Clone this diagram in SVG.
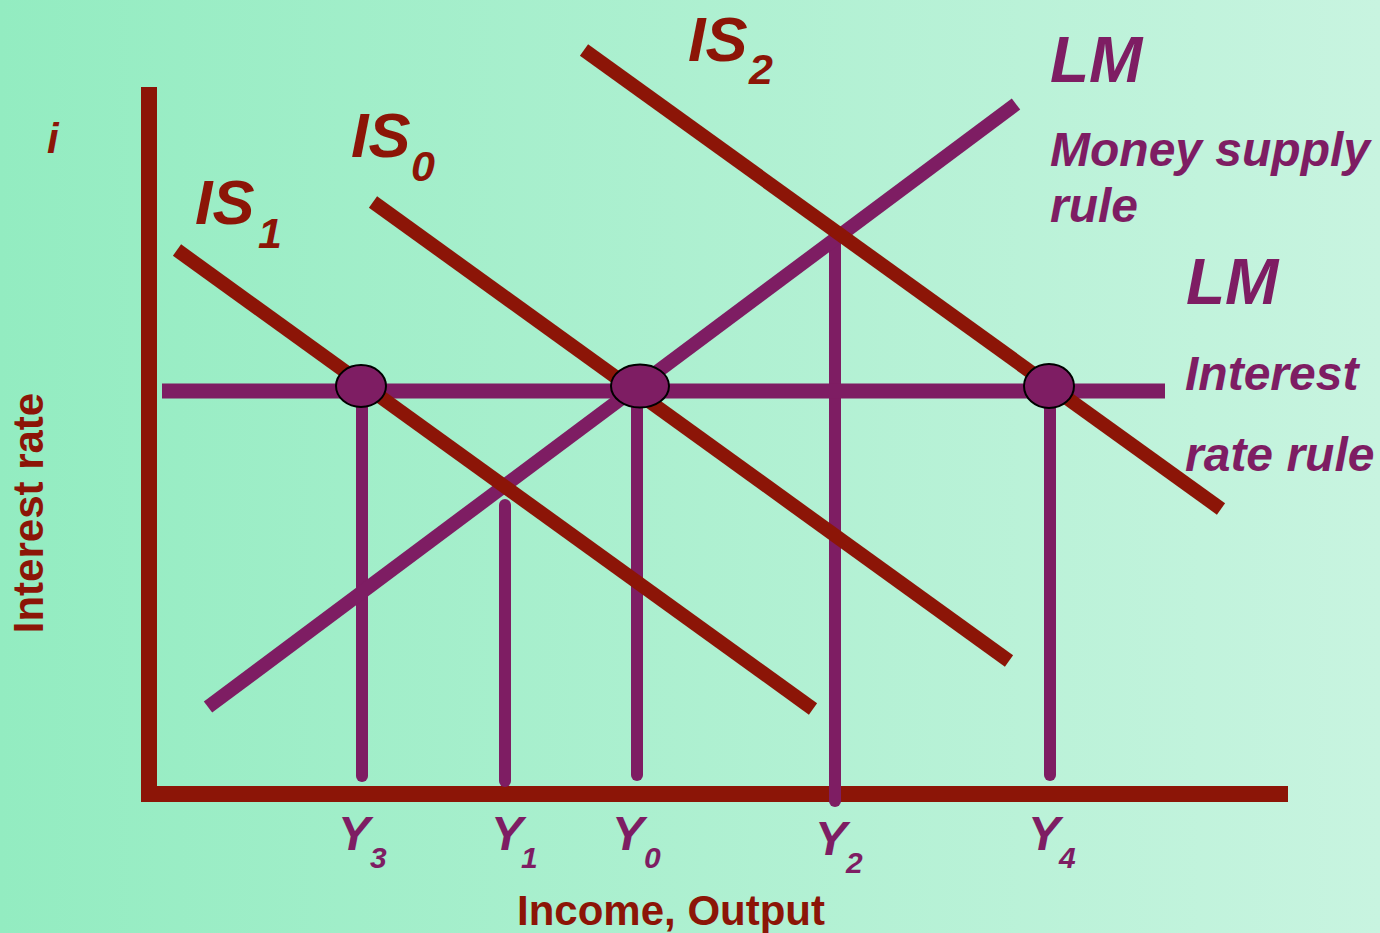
<svg xmlns="http://www.w3.org/2000/svg" width="1380" height="933" viewBox="0 0 1380 933">
<defs>
<linearGradient id="bg" x1="0" y1="0" x2="1" y2="0">
<stop offset="0" stop-color="#93ECC1"/>
<stop offset="1" stop-color="#C8F4E0"/>
</linearGradient>
</defs>
<style>
.t{font-family:"Liberation Sans",Arial,sans-serif;font-weight:bold;}
.it{font-style:italic;}
.red{fill:#8C1507;}
.pur{fill:#7E1D63;}
.axis{stroke:#8C1507;stroke-width:16;fill:none;}
.is{stroke:#8C1507;stroke-width:14;fill:none;}
.lm{stroke:#7E1D63;stroke-width:14;fill:none;}
.drop{stroke:#7E1D63;stroke-width:12;stroke-linecap:round;fill:none;}
.dot{fill:#7E1D63;stroke:#000;stroke-width:2;}
</style>
<rect x="0" y="0" width="1380" height="933" fill="url(#bg)"/>
<g id="axes">
<line class="axis" x1="149" y1="87" x2="149" y2="802"/>
<line class="axis" x1="141" y1="794" x2="1288" y2="794"/>
</g>
<g id="connectors">
<line class="drop" x1="362" y1="386" x2="362" y2="776"/>
<line class="drop" x1="505" y1="505" x2="505" y2="781"/>
<line class="drop" x1="637" y1="386" x2="637" y2="775"/>
<line class="drop" x1="835" y1="240" x2="835" y2="801"/>
<line class="drop" x1="1050" y1="386" x2="1050" y2="775"/>
<line class="lm" x1="162" y1="391" x2="1165" y2="391" style="stroke-width:15"/>
<line class="lm" x1="208" y1="707" x2="1016" y2="104"/>
<line class="is" x1="177" y1="250" x2="813" y2="709"/>
<line class="is" x1="373" y1="202" x2="1009" y2="661"/>
<line class="is" x1="584" y1="50" x2="1221" y2="509"/>
</g>
<g id="eq-left"><ellipse class="dot" cx="361" cy="386" rx="25" ry="21"/></g>
<g id="eq-mid"><ellipse class="dot" cx="640" cy="386" rx="29" ry="21.5"/></g>
<g id="eq-right"><ellipse class="dot" cx="1049" cy="386" rx="25" ry="22"/></g>
<g id="labels-is">
<text class="t it red" x="47" y="153" font-size="42">i</text>
<text class="t it red" x="195" y="224" font-size="63">IS</text>
<text class="t it red" x="258" y="248" font-size="43">1</text>
<text class="t it red" x="351" y="157" font-size="63">IS</text>
<text class="t it red" x="411" y="181" font-size="43">0</text>
<text class="t it red" x="688" y="61" font-size="63">IS</text>
<text class="t it red" x="749" y="84" font-size="43">2</text>
</g>
<g id="labels-lm">
<text class="t it pur" x="1050" y="82" font-size="64">LM</text>
<text class="t it pur" x="1050" y="166" font-size="48">Money supply</text>
<text class="t it pur" x="1050" y="222" font-size="48">rule</text>
<text class="t it pur" x="1186" y="304" font-size="64">LM</text>
<text class="t it pur" x="1185" y="390" font-size="48">Interest</text>
<text class="t it pur" x="1185" y="471" font-size="48">rate rule</text>
</g>
<g id="labels-y">
<text class="t it pur" x="338" y="850" font-size="48">Y</text>
<text class="t it pur" x="370" y="868" font-size="30">3</text>
<text class="t it pur" x="491" y="850" font-size="48">Y</text>
<text class="t it pur" x="521" y="868" font-size="30">1</text>
<text class="t it pur" x="612" y="850" font-size="48">Y</text>
<text class="t it pur" x="644" y="868" font-size="30">0</text>
<text class="t it pur" x="815" y="855" font-size="48">Y</text>
<text class="t it pur" x="846" y="873" font-size="30">2</text>
<text class="t it pur" x="1028" y="850" font-size="48">Y</text>
<text class="t it pur" x="1059" y="868" font-size="30">4</text>
</g>
<g id="axis-titles">
<text class="t red" x="671" y="925" font-size="42" text-anchor="middle">Income, Output</text>
<text class="t red" x="0" y="0" font-size="42" text-anchor="middle" transform="translate(43,513) rotate(-90)">Interest rate</text>
</g>
</svg>
